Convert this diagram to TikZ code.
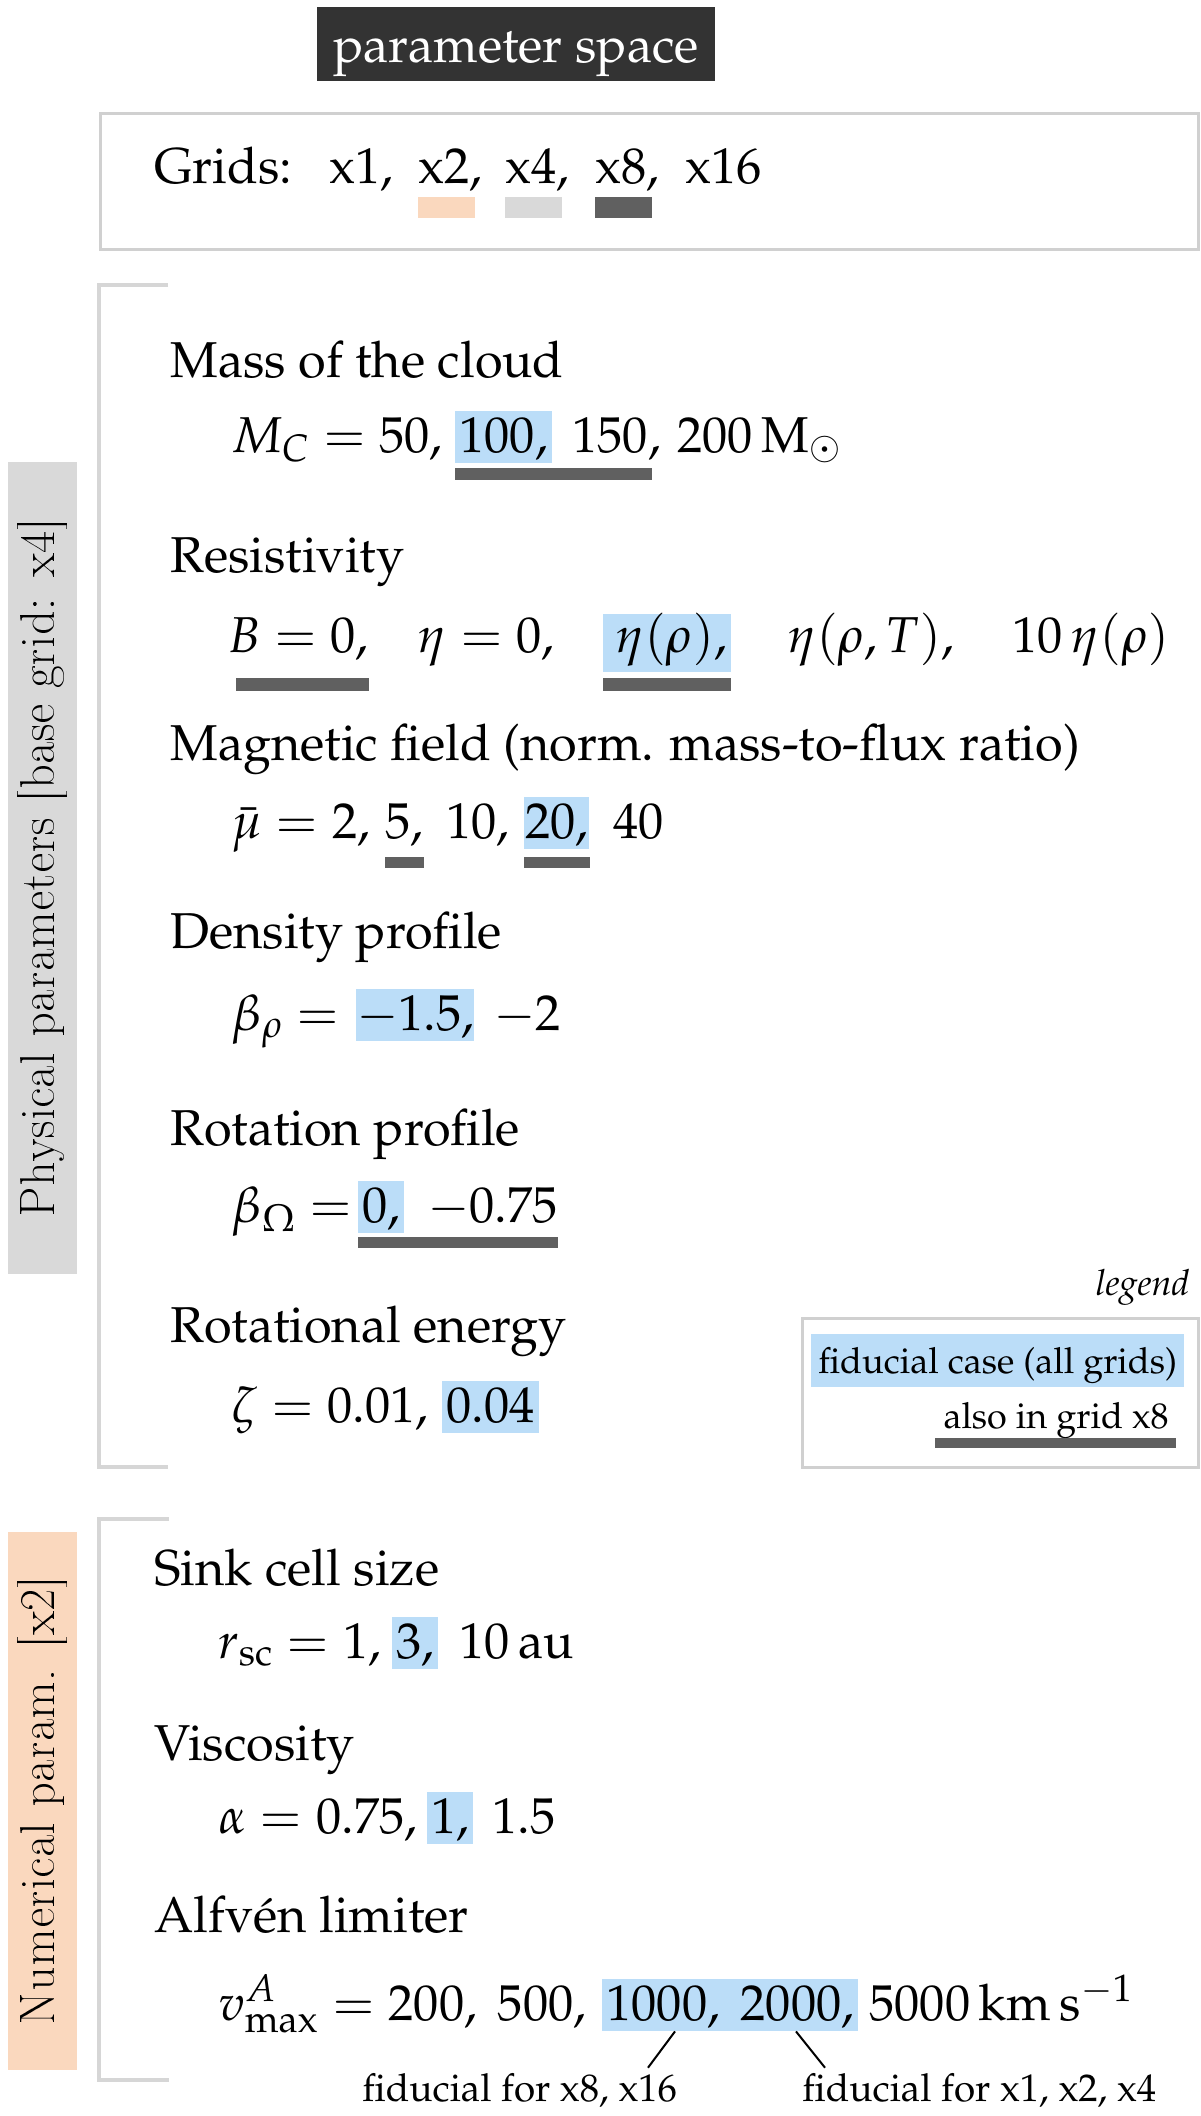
\documentclass[tikz,border=0pt]{standalone}
\usepackage[T1]{fontenc}
\usepackage{mathpazo}
\usetikzlibrary{calc}
\definecolor{hlblue}{RGB}{187,221,248}
\definecolor{peach}{RGB}{250,216,190}
\definecolor{lgray}{RGB}{217,217,217}
\definecolor{ulgray}{RGB}{96,96,96}
\definecolor{darkbox}{RGB}{51,51,51}
\definecolor{boxgray}{RGB}{208,208,208}
\definecolor{brgray}{RGB}{214,214,214}
\newcommand{\mainsz}{\fontsize{25.2}{30}\selectfont}
\newcommand{\smallsz}{\fontsize{18}{22}\selectfont}
\newcommand{\annsz}{\fontsize{19.3}{23}\selectfont}
\newcommand{\lmsz}{\fontfamily{lmr}\fontsize{25.6}{30}\selectfont}
\begin{document}
\begin{tikzpicture}[x=0.5pt,y=-0.5pt,
  txt/.style={anchor=base west, inner sep=0pt, font=\mainsz},
  hl/.style={fill=hlblue, inner xsep=2pt, inner ysep=0pt, text height=20.5pt, text depth=5.5pt},
  ul/.style={fill=ulgray},
  frame/.style={draw=boxgray, line width=1.5pt, inner sep=0pt},
  bracket/.style={draw=brgray, line width=2pt},
  vlabel/.style={rotate=90, inner sep=0pt, font=\lmsz, minimum height=34.5pt},
  ann/.style={anchor=base west, inner sep=0pt, font=\annsz},
  annline/.style={draw=black, line width=1pt}
]
\useasboundingbox (0,0) rectangle (1200,2116);
\fill[white] (0,0) rectangle (1200,2116);

% title
\node[fill=darkbox, text=white, font=\mainsz, minimum width=199pt, minimum height=37pt,
      inner sep=0pt, text height=22pt, text depth=4pt] (title) at (516,44) {parameter space};

% grids box
\node[frame, minimum width=549pt, minimum height=68pt] (gridbox) at (649,181) {};
\node[txt] (g0) at (154,183) {Grids:};
\node[txt] (g1) at (329,183) {x1,};
\node[txt] (g2) at (418,183) {x2,};
\node[txt] (g3) at (505,183) {x4,};
\node[txt] (g4) at (595,183) {x8,};
\node[txt] (g5) at (685,183) {x16};
\fill[peach]  ([yshift=-7pt]g2.base west) rectangle ([xshift=28.5pt,yshift=-17.5pt]g2.base west);
\fill[lgray]  ([yshift=-7pt]g3.base west) rectangle ([xshift=28.5pt,yshift=-17.5pt]g3.base west);
\fill[ulgray] ([yshift=-7pt]g4.base west) rectangle ([xshift=28.5pt,yshift=-17.5pt]g4.base west);

% physical parameters section
\draw[bracket] (168,285) -- (99,285) -- (99,1467) -- (168,1467);
\node[vlabel, fill=lgray, minimum width=406pt] (phys) at (42.5,868) {Physical parameters [base grid: x4]};

\node[txt] (hMass) at (170,377) {Mass of the cloud};
\node[txt] (mc1) at (231,452) {$M_C = 50,$};
\node[txt,hl] (mc2) at (455,452) {$100,$};
\node[txt] (mc3) at (572,452) {$150,$};
\node[txt] (mc4) at (677,452) {$200\,\mathrm{M}_\odot$};
\fill[ul] ([yshift=-8pt]mc2.base west) rectangle ([xshift=-4.5pt,yshift=-14pt]mc3.base east);

\node[txt] (hRes) at (170,572) {Resistivity};
\node[txt] (r1) at (227,652) {$B = 0,$};
\node[txt] (r2) at (417,652) {$\eta = 0,$};
\node[txt,hl,text height=19pt,text depth=10pt] (r3) at (603,652) {\hspace{4pt}$\eta(\rho),$\hspace{1pt}};
\node[txt] (r4) at (787,652) {$\eta(\rho, T),$};
\node[txt] (r5) at (1012,652) {$10\,\eta(\rho)$};
\fill[ul] ([xshift=4.5pt,yshift=-13pt]r1.base west) rectangle ([yshift=-19.5pt]r1.base east);
\fill[ul] ([yshift=-13pt]r3.base west) rectangle ([yshift=-19.5pt]r3.base east);

\node[txt] (hMag) at (170,760) {Magnetic field (norm. mass-to-flux ratio)};
\node[txt] (u1) at (231,838) {$\bar\mu = 2,$};
\node[txt] (u2) at (385,838) {$5,$};
\node[txt] (u3) at (446,838) {$10,$};
\node[txt,hl,inner xsep=0.5pt] (u4) at (524,838) {$20,$};
\node[txt] (u5) at (613,838) {$40$};
\fill[ul] ([yshift=-9.5pt]u2.base west) rectangle ([yshift=-15pt]u2.base east);
\fill[ul] ([yshift=-9.5pt]u4.base west) rectangle ([yshift=-15pt]u4.base east);

\node[txt] (hDen) at (170,948) {Density profile};
\node[txt] (d1) at (231,1030) {$\beta_\rho =$};
\node[txt,hl,inner xsep=0pt] (d2) at (356,1030) {$-1.5,$};
\node[txt] (d3) at (493,1030) {$-2$};

\node[txt] (hRot) at (170,1145) {Rotation profile};
\node[txt] (o1) at (231,1222) {$\beta_\Omega =$};
\node[txt,hl] (o2) at (358,1222) {$0,$};
\node[txt] (o3) at (427,1222) {$-0.75$};
\fill[ul] ([yshift=-7.5pt]o2.base west) rectangle ([yshift=-13pt]o3.base east);

\node[txt] (hEn) at (170,1342) {Rotational energy};
\node[txt] (z1) at (231,1422) {$\zeta = 0.01,$};
\node[txt,hl] (z2) at (442,1422) {$0.04$};

% legend
\node[anchor=base east, inner sep=0pt, font=\smallsz\itshape] (legtitle) at (1190,1295) {legend};
\node[frame, minimum width=198pt, minimum height=74.5pt] (legbox) at (1000,1392.5) {};
\node[anchor=base west, font=\smallsz, fill=hlblue, inner xsep=3.5pt, inner ysep=0pt,
      text height=19.5pt, text depth=7pt] (leg1) at (811,1373) {fiducial case (all grids)};
\node[anchor=base east, inner sep=0pt, font=\smallsz] (leg2) at (1169,1428) {also in grid x8};
\fill[ul] ([xshift=-4pt,yshift=-5pt]leg2.base west) rectangle ([xshift=3.5pt,yshift=-10pt]leg2.base east);

% numerical parameters section
\draw[bracket] (169,1519) -- (99,1519) -- (99,2080) -- (169,2080);
\node[vlabel, fill=peach, minimum width=269pt] (num) at (42.5,1801) {Numerical param. [x2]};

\node[txt] (hSink) at (154,1585) {Sink cell size};
\node[txt] (s1) at (218,1658) {$r_\mathrm{sc} = 1,$};
\node[txt,hl] (s2) at (392,1658) {$3,$};
\node[txt] (s3) at (459,1658) {$10\,\mathrm{au}$};

\node[txt] (hVisc) at (154,1760) {Viscosity};
\node[txt] (a1) at (218,1833) {$\alpha = 0.75,$};
\node[txt,hl] (a2) at (427,1833) {$1,$};
\node[txt] (a3) at (492,1833) {$1.5$};

\node[txt] (hAlf) at (154,1932) {Alfv\'en limiter};
\node[txt] (v1) at (218,2020) {$v^A_\mathrm{max} = 200,\ 500,$};
\node[txt,hl] (v2) at (602,2020) {$1000,\ 2000,$};
\node[txt] (v3) at (869,2020) {$5000\,\mathrm{km\,s^{-1}}$};

\node[ann] (f1) at (362,2101) {fiducial for x8, x16};
\node[ann] (f2) at (802,2101) {fiducial for x1, x2, x4};
\draw[annline] ([xshift=36.5pt]v2.south west) -- ([xshift=143pt,yshift=2.5pt]f1.north west);
\draw[annline] ([xshift=97pt]v2.south west) -- ([xshift=11.5pt,yshift=2.5pt]f2.north west);
\end{tikzpicture}
\end{document}
